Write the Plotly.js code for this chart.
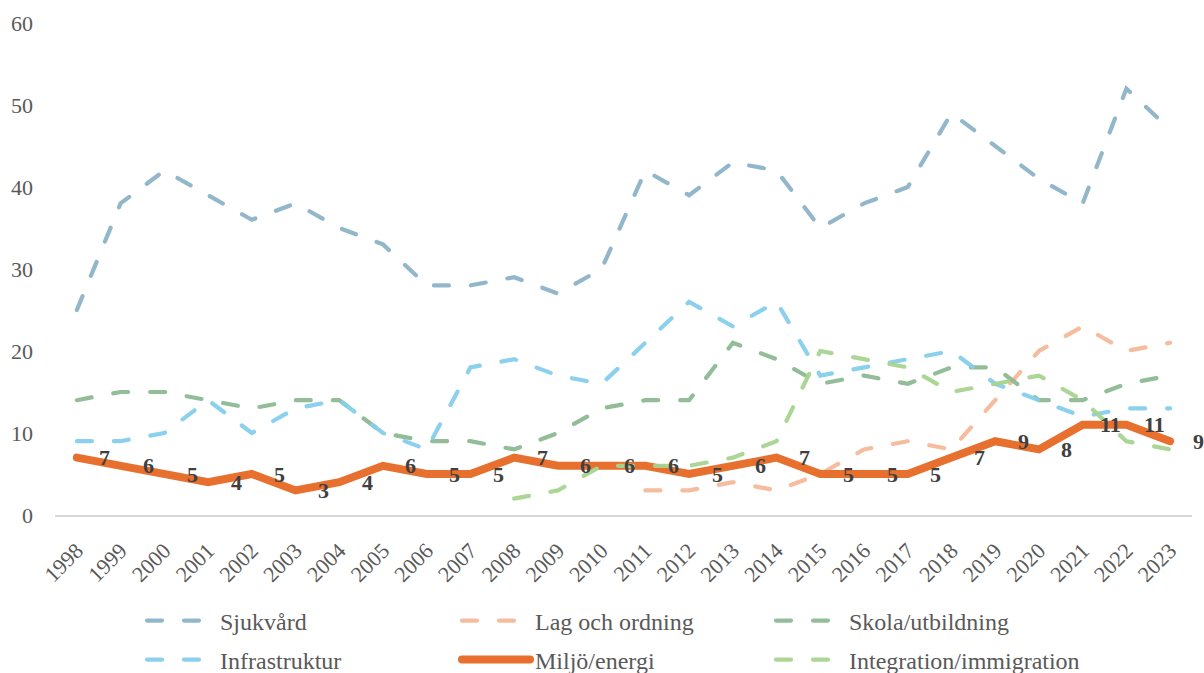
<!DOCTYPE html>
<html>
<head>
<meta charset="utf-8">
<script src="https://cdn.plot.ly/plotly-3.0.1.min.js"></script>
<style>
html,body{margin:0;padding:0;background:#fff;}
#chart{width:1204px;height:673px;}
.scatterlayer path.js-line, .legendlines path{stroke-linecap:round;}
</style>
</head>
<body>
<div id="chart"></div>
<script>
const years = ['1998','1999','2000','2001','2002','2003','2004','2005','2006','2007','2008','2009','2010','2011','2012','2013','2014','2015','2016','2017','2018','2019','2020','2021','2022','2023'];
const sjukvard = [25,38,42,39,36,38,35,33,28,28,29,27,30,42,39,43,42,35,38,40,49,45,41,38,52,47];
const lagOchOrdning = [null,null,null,null,null,null,null,null,null,null,null,null,null,3,3,4,3,5,8,9,8,14,20,23,20,21];
const skola = [14,15,15,14,13,14,14,10,9,9,8,10,13,14,14,21,19,16,17,16,18,18,14,14,16,17];
const infrastruktur = [9,9,10,14,10,13,14,10,8,18,19,17,16,21,26,23,26,17,18,19,20,16,14,12,13,13];
const miljo = [7,6,5,4,5,3,4,6,5,5,7,6,6,6,5,6,7,5,5,5,7,9,8,11,11,9];
const integration = [null,null,null,null,null,null,null,null,null,null,2,3,6,6,6,7,9,20,19,18,15,16,17,14,9,8];

const seriesNames = ['Sjukvård','Lag och ordning','Skola/utbildning','Infrastruktur','Miljö/energi','Integration/immigration'];
const seriesData = [sjukvard, lagOchOrdning, skola, infrastruktur, miljo, integration];
const seriesColors = ['#8DB3C7','#F4B899','#8DB993','#85CEEB','#E8702F','#A8D48F'];
const seriesWidths = [4.2,4.2,4.2,4.2,8,4.2];
const seriesDash = ['15px,22px','15px,22px','15px,22px','15px,22px','solid','15px,22px'];
const legendIds = ['legend','legend2','legend3','legend4','legend5','legend6'];

const serif = 'Liberation Serif';

const traces = seriesNames.map((name, i) => ({
  type: 'scatter',
  mode: 'lines',
  name: name,
  legend: legendIds[i],
  x: years,
  y: seriesData[i],
  connectgaps: false,
  line: {color: seriesColors[i], width: seriesWidths[i], dash: seriesDash[i]},
  opacity: i === 4 ? 1 : 0.95,
  hoverinfo: 'x+y+name'
}));

const annotations = miljo.map((v, j) => ({
  x: j, y: v, xref: 'x', yref: 'y',
  text: '<b>' + v + '</b>',
  showarrow: false, xshift: 28, xanchor: 'center', yanchor: 'middle',
  font: {family: serif, size: 22, color: '#404040'}
}));

function legendBox(textX, ypx) {
  return {
    orientation: 'h',
    x: (textX - 78 - 55) / 1137, xanchor: 'left',
    y: (515 - ypx) / 492, yanchor: 'middle',
    itemwidth: 68,
    bgcolor: 'rgba(0,0,0,0)', borderwidth: 0,
    font: {family: serif, size: 24, color: '#595959'}
  };
}

const layout = {
  width: 1204, height: 673,
  font: {family: serif, size: 22, color: '#595959'},
  margin: {l: 55, r: 12, t: 23, b: 158, autoexpand: false},
  paper_bgcolor: '#ffffff', plot_bgcolor: '#ffffff',
  showlegend: true,
  xaxis: {
    type: 'category',
    range: [-0.5, 25.5],
    automargin: false,
    showgrid: false, zeroline: false,
    showline: true, linecolor: '#D9D9D9', linewidth: 2,
    ticks: '', tickangle: -45, ticklabelstandoff: 12,
    tickfont: {family: serif, size: 22, color: '#595959'}
  },
  yaxis: {
    range: [0, 60], dtick: 10, tick0: 0,
    automargin: false,
    showgrid: false, zeroline: false, showline: false,
    ticks: '', ticklabelstandoff: 21,
    tickfont: {family: serif, size: 22, color: '#595959'}
  },
  legend: legendBox(220, 621),
  legend2: legendBox(535, 621),
  legend3: legendBox(849, 621),
  legend4: legendBox(220, 660),
  legend5: legendBox(535, 660),
  legend6: legendBox(849, 660),
  annotations: annotations
};

Plotly.newPlot('chart', traces, layout, {displayModeBar: false, staticPlot: true});
</script>
</body>
</html>
